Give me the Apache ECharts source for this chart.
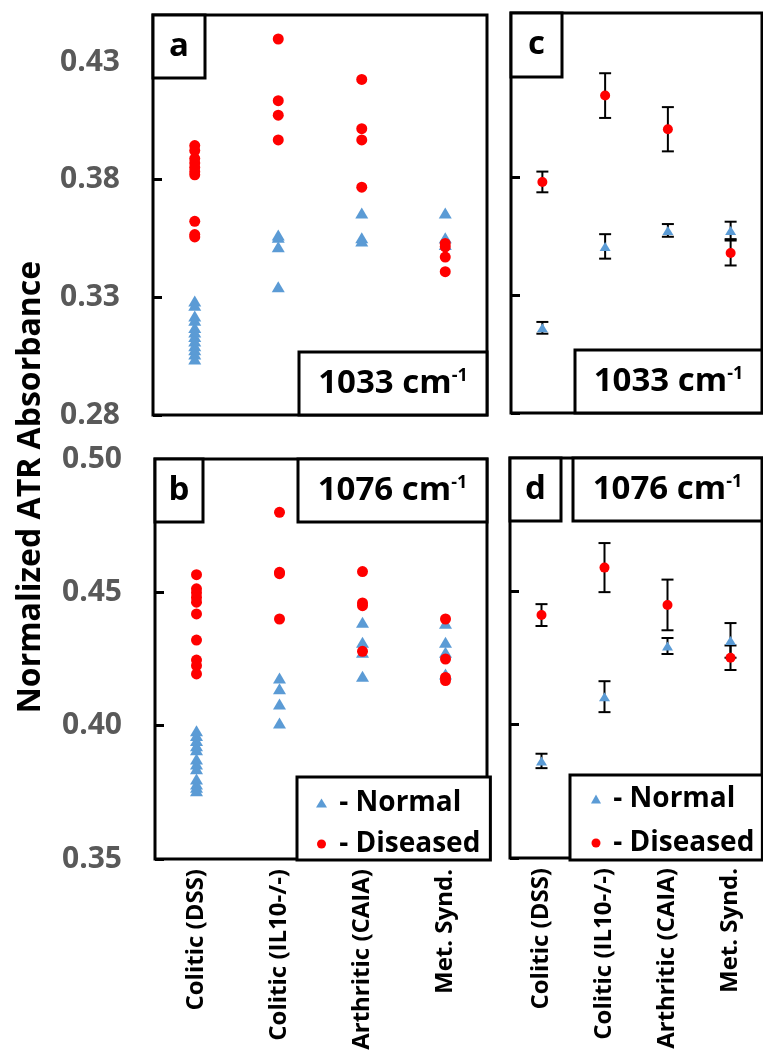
<!DOCTYPE html>
<html>
<head>
<meta charset="utf-8">
<script src="https://cdn.jsdelivr.net/npm/echarts@6/dist/echarts.min.js"></script>
<style>html,body{margin:0;padding:0;background:#fff;}#c{width:763px;height:1054px;}</style>
</head>
<body>
<div id="c"></div>
<script>
const categories = ['Colitic (DSS)', 'Colitic (IL10-/-)', 'Arthritic (CAIA)', 'Met. Synd.'];

// Panel a: 1033 cm-1 individual values
const aNormal = [
  [0.3285, 0.3266, 0.3221, 0.3203, 0.3172, 0.3153, 0.3134, 0.3115, 0.3094, 0.3077, 0.3059, 0.3038],
  [0.3565, 0.3555, 0.3515, 0.3345],
  [0.3659, 0.3553, 0.3539],
  [0.3659, 0.3553, 0.3525]
];
const aDiseased = [
  [0.3945, 0.3924, 0.3890, 0.3871, 0.3852, 0.3834, 0.3821, 0.3623, 0.3567, 0.3557],
  [0.4398, 0.4136, 0.4074, 0.3969],
  [0.4226, 0.4017, 0.3969, 0.3768],
  [0.3529, 0.3515, 0.3471, 0.3409]
];
// Panel b: 1076 cm-1 individual values
const bNormal = [
  [0.3981, 0.3963, 0.3944, 0.3925, 0.3910, 0.3875, 0.3856, 0.3838, 0.3800, 0.3781, 0.3769, 0.3756],
  [0.4179, 0.4138, 0.4081, 0.4010],
  [0.4388, 0.4313, 0.4275, 0.4185],
  [0.4384, 0.4313, 0.4275, 0.4194]
];
const bDiseased = [
  [0.4566, 0.4513, 0.4498, 0.4481, 0.4463, 0.4419, 0.4321, 0.4246, 0.4225, 0.4194],
  [0.4800, 0.4575, 0.4570, 0.4400],
  [0.4578, 0.4460, 0.4450, 0.4279],
  [0.4400, 0.4250, 0.4181, 0.4169]
];
// Panel c: 1033 cm-1 means and errors
const cNormalMean = [0.3162, 0.3508, 0.3576, 0.3576];
const cNormalErr = [0.0025, 0.0052, 0.0027, 0.0037];
const cDiseasedMean = [0.3782, 0.4149, 0.4006, 0.3480];
const cDiseasedErr = [0.0044, 0.0095, 0.0094, 0.0053];
// Panel d: 1076 cm-1 means and errors
const dNormalMean = [0.3864, 0.4105, 0.4295, 0.4316];
const dNormalErr = [0.0027, 0.0058, 0.0030, 0.0065];
const dDiseasedMean = [0.4411, 0.4589, 0.4449, 0.4251];
const dDiseasedErr = [0.0041, 0.0092, 0.0095, 0.0046];

const topTicks = [0.28, 0.33, 0.38, 0.43];
const bottomTicks = [0.35, 0.40, 0.45, 0.50];
const panelLetters = ['a', 'b', 'c', 'd'];
const wavenumbers = ['1033', '1076'];
const yTitle = 'Normalized ATR Absorbance';
const legendNames = ['Normal', 'Diseased'];

const FONT = 'Open Sans';
const BLUE = '#5B9BD5';
const RED = '#FF0000';

function flat(groups) {
  const out = [];
  groups.forEach((g, i) => g.forEach(v => out.push([i, v])));
  return out;
}
function meanErr(m, e) { return m.map((v, i) => [i, v, e[i]]); }

const grids = [
  { left: 153, top: 15, width: 334, height: 400 },
  { left: 155, top: 459, width: 332, height: 400 },
  { left: 511, top: 13, width: 251, height: 400 },
  { left: 510, top: 458, width: 252, height: 400 }
].map(g => Object.assign(g, { show: true, borderColor: '#000', borderWidth: 3, backgroundColor: 'transparent',
  containLabel: false, outerBoundsMode: 'none' }));

function xAxis(idx, showLabel) {
  return {
    type: 'category', gridIndex: idx, data: categories, boundaryGap: true,
    axisLine: { show: false }, axisTick: { show: false }, splitLine: { show: false },
    axisLabel: { show: showLabel, rotate: 90, margin: 10, interval: 0, hideOverlap: false, overflow: 'none',
      fontFamily: FONT, fontWeight: 'bold', fontSize: 24, color: '#000' }
  };
}
function yAxis(idx, min, max, ticks, showLabel) {
  return {
    type: 'value', gridIndex: idx, min: min, max: max,
    axisLine: { show: false }, splitLine: { show: false },
    axisTick: { show: true, inside: true, length: 9, customValues: ticks, lineStyle: { color: '#000', width: 3 } },
    axisLabel: { show: showLabel, customValues: ticks, margin: 33, formatter: v => v.toFixed(2),
      fontFamily: FONT, fontWeight: 'bold', fontSize: 30, color: '#595959' }
  };
}

function errSeries(idx, data) {
  return {
    type: 'custom', name: 'err' + idx, xAxisIndex: idx, yAxisIndex: idx, z: 2,
    data: data, encode: { x: 0, y: 1 },
    renderItem: function (params, api) {
      const x = api.value(0), y = api.value(1), e = api.value(2);
      const hi = api.coord([x, y + e]);
      const lo = api.coord([x, y - e]);
      const w = 6;
      const st = { stroke: '#000', lineWidth: 2 };
      return { type: 'group', children: [
        { type: 'line', shape: { x1: hi[0], y1: hi[1], x2: lo[0], y2: lo[1] }, style: st },
        { type: 'line', shape: { x1: hi[0] - w, y1: hi[1], x2: hi[0] + w, y2: hi[1] }, style: st },
        { type: 'line', shape: { x1: lo[0] - w, y1: lo[1], x2: lo[0] + w, y2: lo[1] }, style: st }
      ]};
    }
  };
}
function scat(idx, name, data, big) {
  const isN = name === 'Normal';
  return {
    type: 'scatter', name: name, xAxisIndex: idx, yAxisIndex: idx, z: 3,
    symbol: isN ? 'triangle' : 'circle',
    symbolSize: isN ? (big ? [13, 11] : [11, 9]) : (big ? 11 : 10),
    itemStyle: { color: isN ? BLUE : RED, opacity: 1 },
    data: data
  };
}

function legend(left, top, padding, gap, iw, ih) {
  return {
    orient: 'vertical', left: left, top: top, padding: padding, itemGap: gap,
    itemWidth: iw, itemHeight: ih, selectedMode: false, symbolKeepAspect: true,
    backgroundColor: '#fff', borderColor: '#000', borderWidth: 3, borderRadius: 0, z: 10,
    formatter: ' - {name}',
    textStyle: { fontFamily: FONT, fontWeight: 'bold', fontSize: 28, color: '#000', lineHeight: 27 },
    data: [{ name: legendNames[0], icon: 'triangle' }, { name: legendNames[1], icon: 'circle' }]
  };
}

function box(x, y, w, h, text, rich) {
  return [
    { type: 'rect', z: 20, shape: { x: x, y: y, width: w, height: h },
      style: { fill: '#fff', stroke: '#000', lineWidth: 3 } },
    { type: 'text', z: 21, x: x + w / 2, y: y + h / 2,
      style: { text: text, rich: rich, fill: '#000', align: 'center', verticalAlign: 'middle',
        font: 'bold 33px "Open Sans"' } }
  ];
}
const richWN = {
  m: { fontFamily: FONT, fontWeight: 'bold', fontSize: 33, lineHeight: 33, color: '#000' },
  s: { fontFamily: FONT, fontWeight: 'bold', fontSize: 18, lineHeight: 10, verticalAlign: 'top', color: '#000' }
};
const wn = t => '{m|' + t + ' cm}{s|-1}';

const graphics = [].concat(
  box(153, 15, 52, 63, '{m|' + panelLetters[0] + '}', richWN),
  box(299, 352, 188, 63, wn(wavenumbers[0]), richWN),
  box(155, 459, 48, 63, '{m|' + panelLetters[1] + '}', richWN),
  box(298, 459, 189, 63, wn(wavenumbers[1]), richWN),
  box(511, 13, 51, 64, '{m|' + panelLetters[2] + '}', richWN),
  box(575, 350, 187, 63, wn(wavenumbers[0]), richWN),
  box(510, 458, 51, 63, '{m|' + panelLetters[3] + '}', richWN),
  box(573, 458, 189, 63, wn(wavenumbers[1]), richWN),
  [{ type: 'text', z: 21, x: 31, y: 487, rotation: Math.PI / 2,
     style: { text: yTitle, fill: '#000', align: 'center', verticalAlign: 'middle', font: 'bold 32px "Open Sans"' } }]
);

const chart = echarts.init(document.getElementById('c'), null, { renderer: 'canvas' });
chart.setOption({
  animation: false,
  backgroundColor: '#fff',
  grid: grids,
  xAxis: [xAxis(0, false), xAxis(1, true), xAxis(2, false), xAxis(3, true)],
  yAxis: [
    yAxis(0, 0.28, 0.45, topTicks, true),
    yAxis(1, 0.35, 0.50, bottomTicks, true),
    yAxis(2, 0.28, 0.45, topTicks, false),
    yAxis(3, 0.35, 0.50, bottomTicks, false)
  ],
  legend: [
    legend(297, 777, [12, 10, 2, 19], 13, 11, 9),
    legend(570, 775, [10, 8, 3, 21], 16, 10, 9)
  ],
  series: [
    scat(0, 'Normal', flat(aNormal), true),
    scat(0, 'Diseased', flat(aDiseased), true),
    scat(1, 'Normal', flat(bNormal), true),
    scat(1, 'Diseased', flat(bDiseased), true),
    errSeries(2, meanErr(cNormalMean, cNormalErr)),
    errSeries(2, meanErr(cDiseasedMean, cDiseasedErr)),
    scat(2, 'Normal', cNormalMean.map((v, i) => [i, v]), false),
    scat(2, 'Diseased', cDiseasedMean.map((v, i) => [i, v]), false),
    errSeries(3, meanErr(dNormalMean, dNormalErr)),
    errSeries(3, meanErr(dDiseasedMean, dDiseasedErr)),
    scat(3, 'Normal', dNormalMean.map((v, i) => [i, v]), false),
    scat(3, 'Diseased', dDiseasedMean.map((v, i) => [i, v]), false)
  ],
  graphic: graphics
});
</script>
</body>
</html>
